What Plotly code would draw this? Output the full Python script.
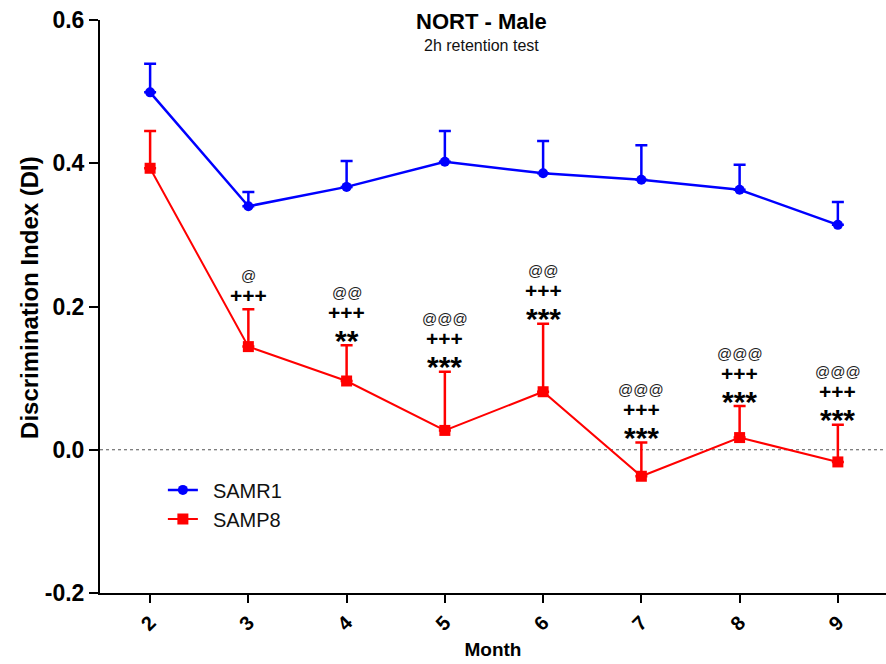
import plotly.graph_objects as go

months = [2, 3, 4, 5, 6, 7, 8, 9]
month_labels = ["2", "3", "4", "5", "6", "7", "8", "9"]

y_ticks = [-0.2, 0.0, 0.2, 0.4, 0.6]
y_tick_labels = ["-0.2", "0.0", "0.2", "0.4", "0.6"]

samr1_mean = [0.499, 0.340, 0.367, 0.402, 0.386, 0.377, 0.363, 0.314]
samr1_sem = [0.040, 0.020, 0.036, 0.043, 0.045, 0.048, 0.035, 0.032]

samp8_mean = [0.393, 0.144, 0.096, 0.027, 0.081, -0.037, 0.017, -0.017]
samp8_sem = [0.052, 0.052, 0.050, 0.082, 0.095, 0.047, 0.044, 0.052]

sig_at = ["", "@", "@@", "@@@", "@@", "@@@", "@@@", "@@@"]
sig_plus = ["", "+++", "+++", "+++", "+++", "+++", "+++", "+++"]
sig_star = ["", "", "**", "***", "***", "***", "***", "***"]

FONT = "Liberation Sans, Arial, sans-serif"
BLUE = "#0000ff"
RED = "#ff0000"

fig = go.Figure()
fig.add_trace(go.Scatter(
    x=months, y=samr1_mean, name="\u2002SAMR1", mode="lines+markers",
    line=dict(color=BLUE, width=2.5),
    marker=dict(symbol="circle", size=10, color=BLUE),
    error_y=dict(type="data", symmetric=False, array=samr1_sem,
                 arrayminus=[0] * len(samr1_sem), color=BLUE, thickness=2.5, width=6),
    legendgroup="a",
))
fig.add_trace(go.Scatter(
    x=months, y=samp8_mean, name="\u2002SAMP8", mode="lines+markers",
    line=dict(color=RED, width=2),
    marker=dict(symbol="square", size=11, color=RED),
    error_y=dict(type="data", symmetric=False, array=samp8_sem,
                 arrayminus=[0] * len(samp8_sem), color=RED, thickness=2.5, width=6),
    legendgroup="b",
))

annotations = []
for m, mu, se, a, p, s in zip(months, samp8_mean, samp8_sem, sig_at, sig_plus, sig_star):
    top = mu + se
    lines = []
    if s:
        lines.append((s, dict(size=30, family=FONT, color="black", weight="bold"), -9))
    if p:
        lines.append((p, dict(size=21, family=FONT, color="black", weight="bold"), 0))
    if a:
        lines.append((a, dict(size=15, family=FONT, color="#222222"), 1))
    for i, (txt, fnt, adj) in enumerate(lines):
        annotations.append(dict(
            x=m, y=top, xref="x", yref="y", text=txt, showarrow=False,
            font=fnt, xanchor="center", yanchor="middle",
            yshift=14 + 19 * i + adj,
        ))

annotations.append(dict(
    x=0.485, y=0.998, xref="paper", yref="paper", text="<b>NORT - Male</b>",
    showarrow=False, font=dict(size=22, family=FONT, color="black"),
    xanchor="center", yanchor="middle"))
annotations.append(dict(
    x=0.485, y=0.955, xref="paper", yref="paper", text="2h retention test",
    showarrow=False, font=dict(size=16, family=FONT, color="#111111"),
    xanchor="center", yanchor="middle"))
annotations.append(dict(
    x=-0.089, y=0.515, xref="paper", yref="paper",
    text="<b>Discrimination Index (DI)</b>", textangle=-90,
    showarrow=False, font=dict(size=24, family=FONT, color="black"),
    xanchor="center", yanchor="middle"))

fig.add_hline(y=0, line=dict(color="#555555", width=1, dash="dot"), layer="below")

fig.update_layout(
    width=886, height=664,
    margin=dict(l=100, r=0, t=20, b=71),
    paper_bgcolor="white", plot_bgcolor="white",
    font=dict(family=FONT, color="black"),
    showlegend=True,
    legend=dict(x=0.08, y=0.214, xanchor="left", yanchor="top",
                font=dict(size=20, family=FONT, color="#111111"),
                bgcolor="rgba(0,0,0,0)", itemwidth=30, tracegroupgap=0,
                traceorder="grouped"),
    annotations=annotations,
    xaxis=dict(
        range=[1.49, 9.49], tickmode="array", tickvals=months, ticktext=month_labels,
        showgrid=False, zeroline=False, showline=True, linecolor="black", linewidth=2,
        ticks="outside", ticklen=8, tickwidth=2, tickcolor="black", tickangle=-45,
        tickfont=dict(size=20, family=FONT, weight="bold"), automargin=False,
        title=dict(text="<b>Month</b>", font=dict(size=19, family=FONT), standoff=9),
    ),
    yaxis=dict(
        range=[-0.2, 0.6], tickmode="array", tickvals=y_ticks, ticktext=y_tick_labels,
        showgrid=False, zeroline=False, showline=True, linecolor="black", linewidth=2,
        ticks="outside", ticklen=9, tickwidth=2, tickcolor="black",
        tickfont=dict(size=23, family=FONT, weight="bold"), automargin=False,
    ),
)

fig.write_html(
    "out.html",
    config={"displayModeBar": False},
    post_script="document.body.style.margin='0';document.body.style.overflow='hidden';",
)
